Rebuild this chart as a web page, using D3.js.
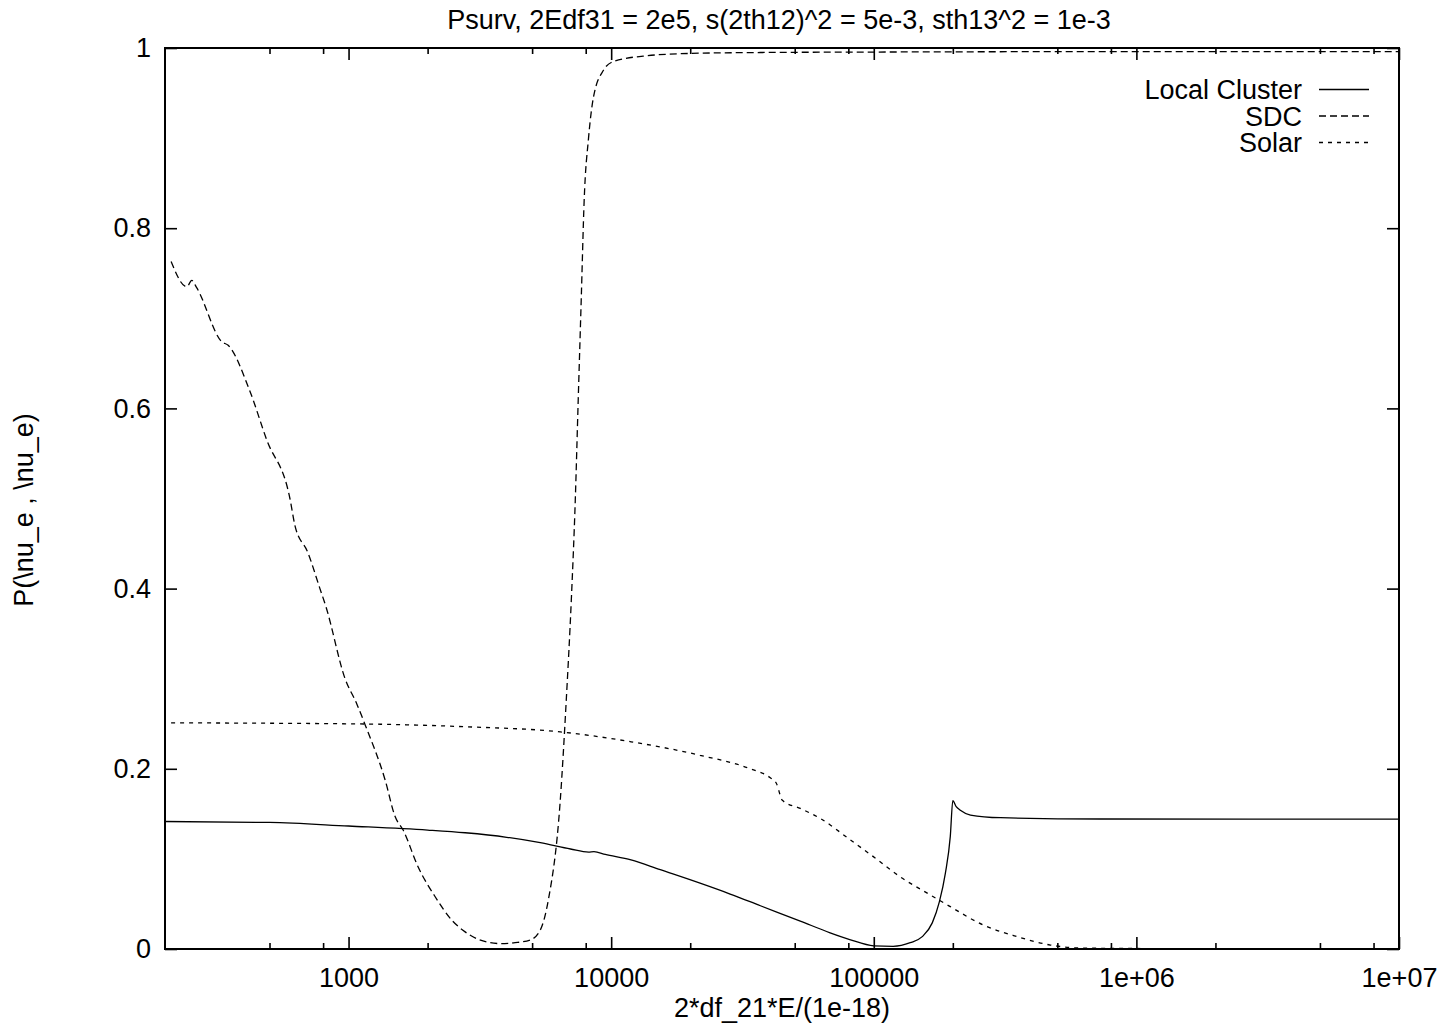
<html>
    <head>
        <title>Psurv</title>
        <meta charset="UTF-8">
        <script src="https://d3js.org/d3.v7.min.js"></script>
        <style>
            body { margin: 0; background: white; }
            text { font-family: "Liberation Sans", Arial, sans-serif; font-size: 27px; fill: black; }
        </style>
    </head>
    <body>
        <div id="chart"></div>
    </body>
    <script>
    // values
    var titleText = "Psurv, 2Edf31 = 2e5, s(2th12)^2 = 5e-3, sth13^2 = 1e-3";
    var xTitle = "2*df_21*E/(1e-18)";
    var yTitle = "P(\\nu_e , \\nu_e)";

    var xMajor = [1000, 10000, 100000, 1000000, 10000000];
    var xMajorLabels = ["1000", "10000", "100000", "1e+06", "1e+07"];
    var xMinor = [500, 800, 2000, 5000, 8000, 20000, 50000, 80000, 200000, 500000, 800000, 2000000, 5000000, 8000000];
    var yTicks = [0, 0.2, 0.4, 0.6, 0.8, 1];
    var yTickLabels = ["0", "0.2", "0.4", "0.6", "0.8", "1"];

    var seriesNames = ["Local Cluster", "SDC", "Solar"];

    var localX = [200, 500, 1000, 2000, 2780, 4000, 5370, 7000, 8200, 8600, 9500, 11900, 15380, 21800, 28380, 37000, 52500, 68200, 81000, 100000, 118500, 137700, 153000, 167000, 177800, 187300, 195600, 200000, 206000, 213600, 233400, 303700, 729000, 10000000];
    var localY = [0.1415, 0.1405, 0.1365, 0.132, 0.129, 0.124, 0.118, 0.111, 0.1075, 0.108, 0.105, 0.099, 0.088, 0.073, 0.061, 0.048, 0.031, 0.018, 0.0105, 0.0035, 0.003, 0.007, 0.0137, 0.029, 0.0525, 0.084, 0.125, 0.1646, 0.158, 0.154, 0.1487, 0.1457, 0.1443, 0.1442];

    var sdcX = [211, 242, 253, 264, 329, 348, 420, 488, 598, 625, 700, 778, 820, 970, 1075, 1156, 1378, 1504, 1614, 1841, 2137, 2473, 2779, 3100, 3460, 3800, 4307, 4915, 5370, 5760, 6400, 6745, 7050, 7300, 7490, 7690, 7890, 8200, 8570, 9360, 10200, 13240, 20100, 37000, 100000, 1000000, 10000000];
    var sdcY = [0.763, 0.735, 0.742, 0.734, 0.674, 0.67, 0.62, 0.565, 0.5, 0.47, 0.44, 0.4, 0.38, 0.3, 0.272, 0.249, 0.1876, 0.147, 0.132, 0.091, 0.058, 0.032, 0.019, 0.011, 0.007, 0.006, 0.007, 0.01, 0.021, 0.054, 0.165, 0.276, 0.387, 0.498, 0.609, 0.72, 0.83, 0.9, 0.946, 0.9756, 0.985, 0.991, 0.994, 0.995, 0.9955, 0.996, 0.996];

    var solarX = [211, 1156, 2779, 6400, 11900, 21800, 33860, 40360, 42550, 44860, 52500, 62500, 81500, 99600, 126200, 164100, 195600, 261200, 352200, 470000, 628000, 1200000, 10000000];
    var solarY = [0.251, 0.2497, 0.2467, 0.241, 0.23, 0.215, 0.2, 0.19, 0.184, 0.165, 0.156, 0.145, 0.121, 0.1025, 0.08, 0.06, 0.047, 0.0266, 0.0137, 0.0044, 0.001, 0.0005, 0.0005];

    var width = 1453, height = 1029;
    var margin = {top: 48, right: 54, bottom: 80, left: 165};

    var svg = d3.select("#chart")
        .append("svg")
        .attr("width", width)
        .attr("height", height);

    var x = d3.scaleLog()
        .domain([200, 10000000])
        .range([margin.left, width - margin.right]);
    var y = d3.scaleLinear()
        .domain([0, 1])
        .range([height - margin.bottom, margin.top]);

    var x0 = x.range()[0], x1 = x.range()[1];
    var y0 = y.range()[0], y1 = y.range()[1];

    // ticks on all four sides, pointing inward
    function tidy(g) {
        g.select(".domain").remove();
        g.selectAll(".tick line").attr("stroke", "black").attr("stroke-width", 1.6);
        g.selectAll("text").style("font-size", "27px").style("font-family", "'Liberation Sans', Arial, sans-serif").attr("fill", "black");
    }

    svg.append("g")
        .attr("transform", "translate(0," + y0 + ")")
        .call(d3.axisBottom(x).tickValues(xMajor).tickSize(-12).tickPadding(19)
            .tickFormat(function(d, i) { return xMajorLabels[i]; }))
        .call(tidy);
    svg.append("g")
        .attr("transform", "translate(0," + y0 + ")")
        .call(d3.axisBottom(x).tickValues(xMinor).tickSize(-6).tickFormat(""))
        .call(tidy);
    svg.append("g")
        .attr("transform", "translate(0," + y1 + ")")
        .call(d3.axisTop(x).tickValues(xMajor).tickSize(-12).tickFormat(""))
        .call(tidy);
    svg.append("g")
        .attr("transform", "translate(0," + y1 + ")")
        .call(d3.axisTop(x).tickValues(xMinor).tickSize(-6).tickFormat(""))
        .call(tidy);
    svg.append("g")
        .attr("transform", "translate(" + x0 + ",0)")
        .call(d3.axisLeft(y).tickValues(yTicks).tickSize(-12).tickPadding(14)
            .tickFormat(function(d, i) { return yTickLabels[i]; }))
        .call(tidy);
    svg.append("g")
        .attr("transform", "translate(" + x1 + ",0)")
        .call(d3.axisRight(y).tickValues(yTicks).tickSize(-12).tickFormat(""))
        .call(tidy);

    // frame
    svg.append("rect")
        .attr("x", x0)
        .attr("y", y1)
        .attr("width", x1 - x0)
        .attr("height", y0 - y1)
        .attr("fill", "none")
        .attr("stroke", "black")
        .attr("stroke-width", 2);

    // titles
    svg.append("text")
        .attr("x", 779)
        .attr("y", 29)
        .style("text-anchor", "middle")
        .text(titleText);
    svg.append("text")
        .attr("x", (x0 + x1) / 2)
        .attr("y", 1017)
        .style("text-anchor", "middle")
        .text(xTitle);
    svg.append("text")
        .attr("transform", "translate(33," + 510 + ") rotate(-90)")
        .style("text-anchor", "middle")
        .text(yTitle);

    // curves
    var dashes = ["none", "7,4", "4,5"];
    var allX = [localX, sdcX, solarX];
    var allY = [localY, sdcY, solarY];

    var line = d3.line()
        .x(function(d) { return x(d[0]); })
        .y(function(d) { return y(d[1]); })
        .curve(d3.curveMonotoneX);

    seriesNames.forEach(function(name, k) {
        var pts = allX[k].map(function(v, i) { return [v, allY[k][i]]; });
        svg.append("path")
            .datum(pts)
            .attr("d", line)
            .attr("fill", "none")
            .attr("stroke", "black")
            .attr("stroke-width", 1.3)
            .attr("stroke-dasharray", dashes[k]);
    });

    // legend
    var legY = [99, 125.5, 152];
    seriesNames.forEach(function(name, k) {
        svg.append("text")
            .attr("x", 1302)
            .attr("y", legY[k])
            .style("text-anchor", "end")
            .text(name);
        svg.append("line")
            .attr("x1", 1319)
            .attr("x2", 1369)
            .attr("y1", legY[k] - 9.5)
            .attr("y2", legY[k] - 9.5)
            .attr("stroke", "black")
            .attr("stroke-width", 1.3)
            .attr("stroke-dasharray", dashes[k]);
    });
    </script>
</html>
